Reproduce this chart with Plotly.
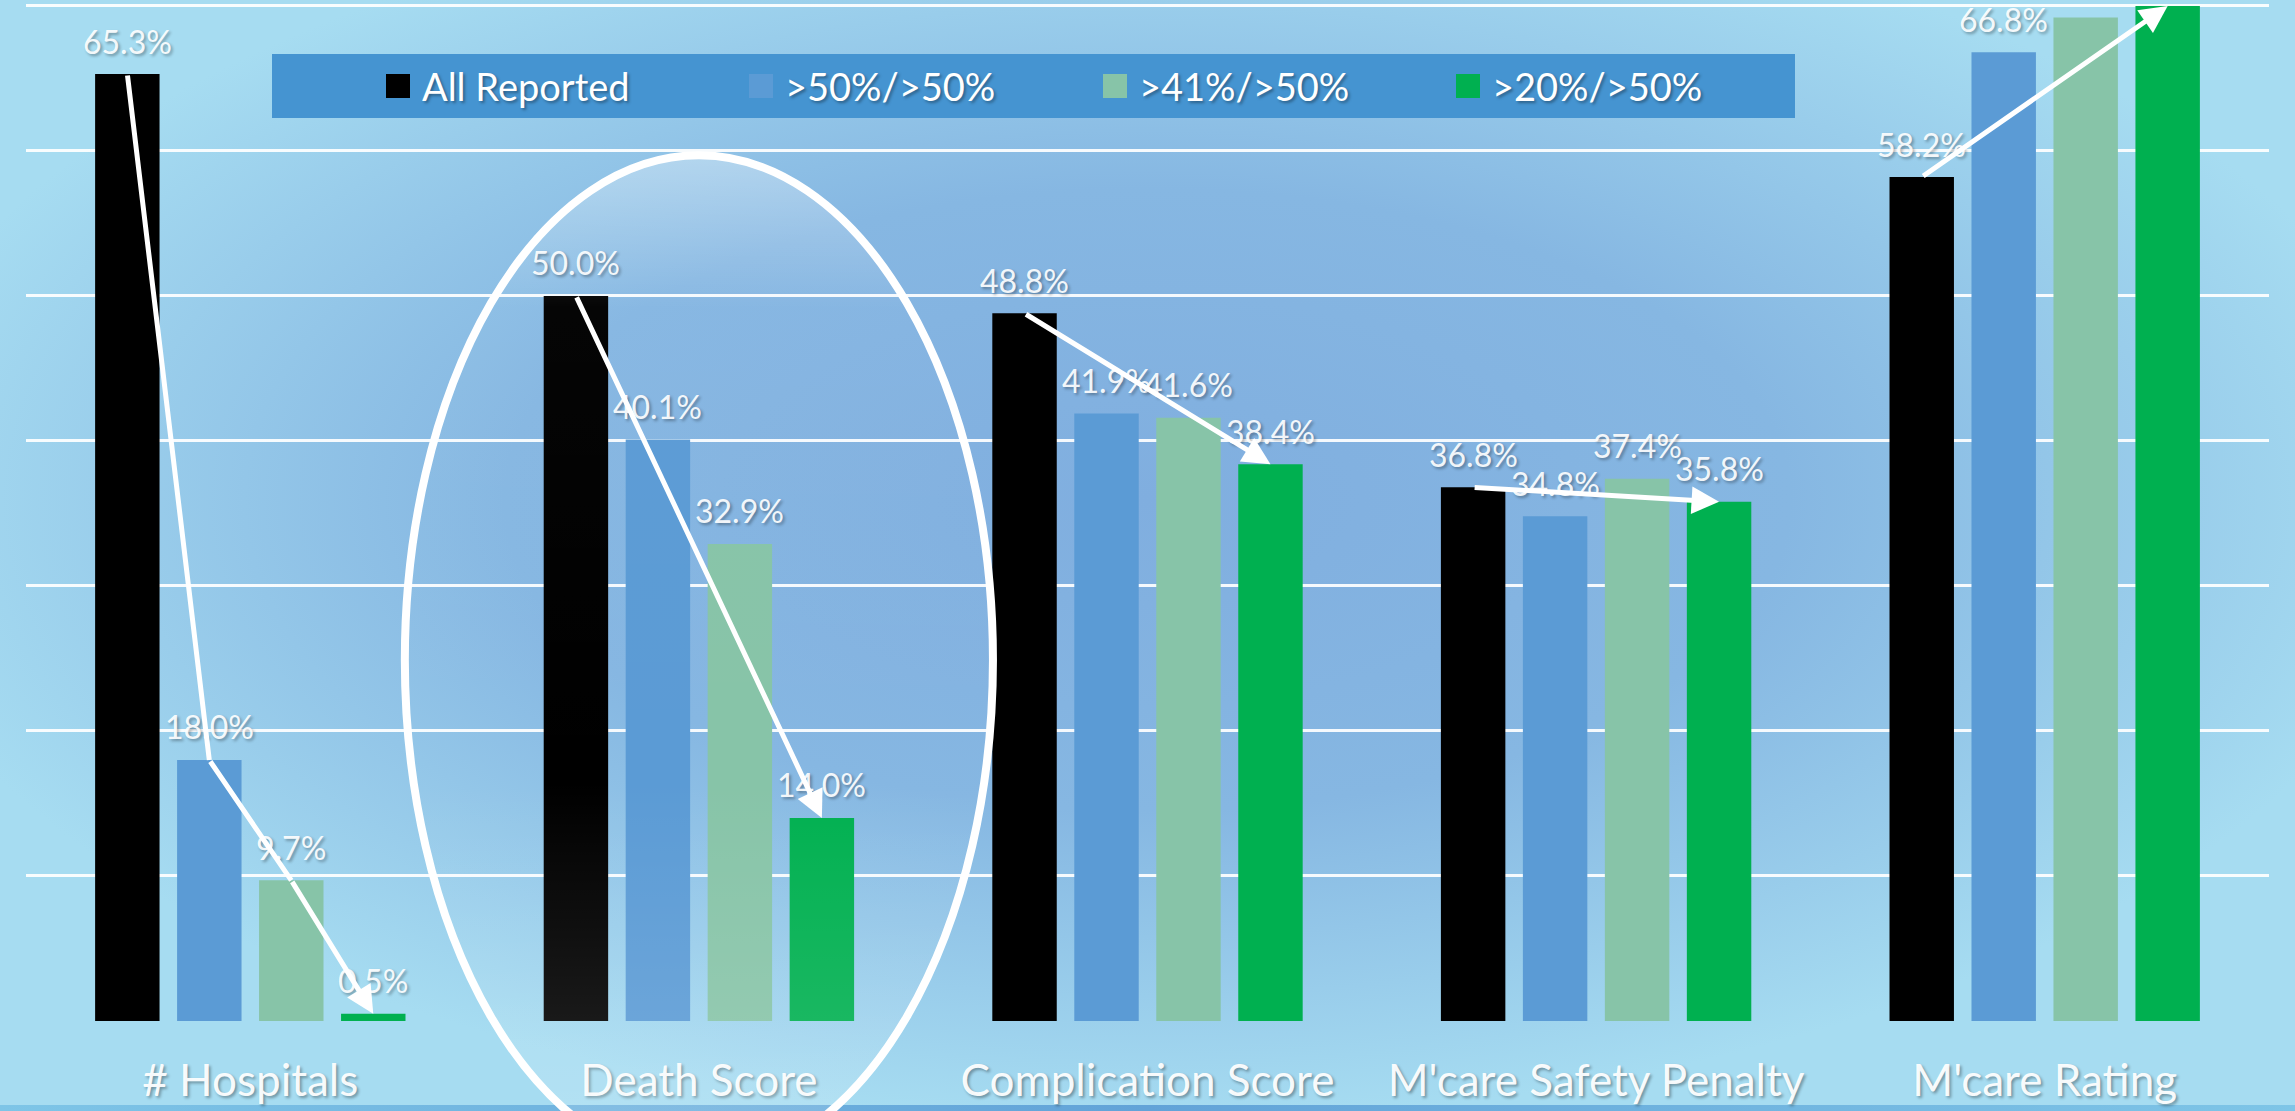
import base64
import plotly.graph_objects as go

# ---------------- data ----------------
categories = ["# Hospitals", "Death Score", "Complication Score",
              "M'care Safety Penalty", "M'care Rating"]
series_names = ["All Reported", ">50%/>50%", ">41%/>50%", ">20%/>50%"]
all_reported = [65.3, 50.0, 48.8, 36.8, 58.2]
gt50_gt50 = [18.0, 40.1, 41.9, 34.8, 66.8]
gt41_gt50 = [9.7, 32.9, 41.6, 37.4, 69.2]
gt20_gt50 = [0.5, 14.0, 38.4, 35.8, 70.0]
series_values = [all_reported, gt50_gt50, gt41_gt50, gt20_gt50]
series_colors = ["#000000", "#5B9BD5", "#87C4A8", "#00B050"]
y_ticks = [0, 10, 20, 30, 40, 50, 60, 70]
# which series each trend arrow passes through, per category
arrow_paths = [[0, 1, 2, 3], [0, 3], [0, 3], [0, 3], [0, 3]]
highlight_category = 1  # circled group

# ---------------- layout constants ----------------
W, H = 2295, 1111
ML, MR, MT, MB = 26, 26, 3, 90
PW, PH = W - ML - MR, H - MT - MB
YMAX = 70
YTOP = 70.2
BARGAP, BARGROUPGAP = 0.269, 0.214
NS = len(series_names)
SLOT = (1 - BARGAP) / NS
FONT = "Lato"
SHADOW = "2px 2px 3px rgba(0,0,0,0.35)"


def off(j):
    return (j - (NS - 1) / 2) * SLOT


def px_x(x):
    return (x - ML) / PW


def px_y(y):
    return (H - MB - y) / PH


def svg_uri(svg):
    return "data:image/svg+xml;base64," + base64.b64encode(svg.encode()).decode()


bg_svg = f"""<svg xmlns="http://www.w3.org/2000/svg" width="{W}" height="{H}" viewBox="0 0 {W} {H}" preserveAspectRatio="none">
<defs>
<radialGradient id="g" cx="0.5" cy="0.45" r="0.56" gradientUnits="objectBoundingBox">
<stop offset="0" stop-color="#80AEDF"/>
<stop offset="0.5" stop-color="#86B7E2"/>
<stop offset="1" stop-color="#A6DCF1"/>
</radialGradient>
<linearGradient id="b" x1="0" y1="0" x2="1" y2="0">
<stop offset="0" stop-color="#7EC5E7"/>
<stop offset="0.5" stop-color="#62A3D8"/>
<stop offset="1" stop-color="#7EC5E7"/>
</linearGradient>
</defs>
<rect x="0" y="0" width="{W}" height="{H}" fill="url(#g)"/>
<rect x="0" y="{H-6}" width="{W}" height="6" fill="url(#b)"/>
</svg>"""

ell_svg = """<svg xmlns="http://www.w3.org/2000/svg" width="100" height="100" viewBox="0 0 100 100" preserveAspectRatio="none">
<defs>
<linearGradient id="e" x1="0" y1="0" x2="0" y2="1">
<stop offset="0" stop-color="#FFFFFF" stop-opacity="0.32"/>
<stop offset="0.15" stop-color="#FFFFFF" stop-opacity="0.02"/>
<stop offset="0.62" stop-color="#FFFFFF" stop-opacity="0.0"/>
<stop offset="0.86" stop-color="#FFFFFF" stop-opacity="0.10"/>
<stop offset="1" stop-color="#FFFFFF" stop-opacity="0.16"/>
</linearGradient>
</defs>
<ellipse cx="50" cy="50" rx="50" ry="50" fill="url(#e)"/>
</svg>"""

fig = go.Figure()
for name, vals, col in zip(series_names, series_values, series_colors):
    fig.add_trace(go.Bar(x=categories, y=vals, name=name, marker_color=col,
                         marker_line_width=0, showlegend=False, hoverinfo="skip"))

annotations = []
# value labels
for j, vals in enumerate(series_values):
    for i, v in enumerate(vals):
        if v > YMAX - 2.5:
            continue
        annotations.append(dict(x=i + off(j), y=v, xref="x", yref="y",
                                text=f"{v:.1f}%", showarrow=False,
                                yanchor="middle", yshift=33,
                                font=dict(family=FONT, size=32,
                                          color="rgba(255,255,255,0.93)",
                                          shadow=SHADOW)))
# trend arrows
for i, path in enumerate(arrow_paths):
    for k in range(len(path) - 1):
        a, b = path[k], path[k + 1]
        last = k == len(path) - 2
        annotations.append(dict(x=i + off(b), y=min(series_values[b][i], YMAX),
                                ax=i + off(a), ay=series_values[a][i],
                                xref="x", yref="y", axref="x", ayref="y",
                                text="", showarrow=True,
                                arrowhead=2 if last else 0, arrowsize=1.1,
                                arrowwidth=5, arrowcolor="white"))

# manual legend
leg_x0, leg_x1, leg_y0, leg_y1 = 272, 1795, 54, 118
sq_x = [386, 749, 1103, 1456]
sq_size = 24
leg_mid = (leg_y0 + leg_y1) / 2
shapes = [dict(type="rect", xref="paper", yref="paper",
               x0=px_x(leg_x0), x1=px_x(leg_x1), y0=px_y(leg_y1), y1=px_y(leg_y0),
               fillcolor="#4594D1", line_width=0, layer="above")]
for sx, col, name in zip(sq_x, series_colors, series_names):
    shapes.append(dict(type="rect", xref="paper", yref="paper",
                       x0=px_x(sx), x1=px_x(sx + sq_size),
                       y0=px_y(leg_mid + sq_size / 2), y1=px_y(leg_mid - sq_size / 2),
                       fillcolor=col, line_width=0, layer="above"))
    annotations.append(dict(x=px_x(sx + 34), y=px_y(leg_mid), xref="paper", yref="paper",
                            text=name, showarrow=False, xanchor="left", yanchor="middle",
                            font=dict(family=FONT, size=38, color="white", shadow=SHADOW)))

# highlight ellipse around a group (centre / half-height in data units)
ecx = (highlight_category + 0.5) / len(categories)
eax = 0.1311
ecy, eby = 24.9 / YTOP, 34.8 / YTOP
shapes.append(dict(type="circle", xref="paper", yref="paper",
                   x0=ecx - eax, x1=ecx + eax, y0=ecy - eby, y1=ecy + eby,
                   line=dict(color="white", width=8), fillcolor="rgba(0,0,0,0)",
                   layer="above"))

images = [
    dict(source=svg_uri(bg_svg), xref="paper", yref="paper",
         x=-ML / PW, y=1 + MT / PH, sizex=W / PW, sizey=H / PH,
         xanchor="left", yanchor="top", sizing="stretch", layer="below"),
    dict(source=svg_uri(ell_svg), xref="paper", yref="paper",
         x=ecx - eax, y=ecy + eby, sizex=2 * eax, sizey=2 * eby,
         xanchor="left", yanchor="top", sizing="stretch", layer="above"),
]

fig.update_layout(
    width=W, height=H,
    margin=dict(l=ML, r=MR, t=MT, b=MB, pad=0),
    barmode="group", bargap=BARGAP, bargroupgap=BARGROUPGAP,
    paper_bgcolor="#8EC0E5", plot_bgcolor="rgba(0,0,0,0)",
    font=dict(family=FONT, color="white"),
    annotations=annotations, shapes=shapes, images=images,
    showlegend=False,
    xaxis=dict(type="category", showgrid=False, showline=False, zeroline=False,
               ticks="", ticklabelstandoff=30,
               tickfont=dict(family=FONT, size=44, color="rgba(255,255,255,0.95)",
                             shadow=SHADOW)),
    yaxis=dict(range=[0, YTOP], tickvals=y_ticks, showticklabels=False,
               showgrid=True, gridcolor="rgba(255,255,255,0.92)", gridwidth=2.5,
               zeroline=False, showline=False, ticks=""),
)

fig.write_html("out.html",
               config={"displayModeBar": False},
               post_script="document.body.style.margin='0';"
                           "document.body.style.overflow='hidden';")
